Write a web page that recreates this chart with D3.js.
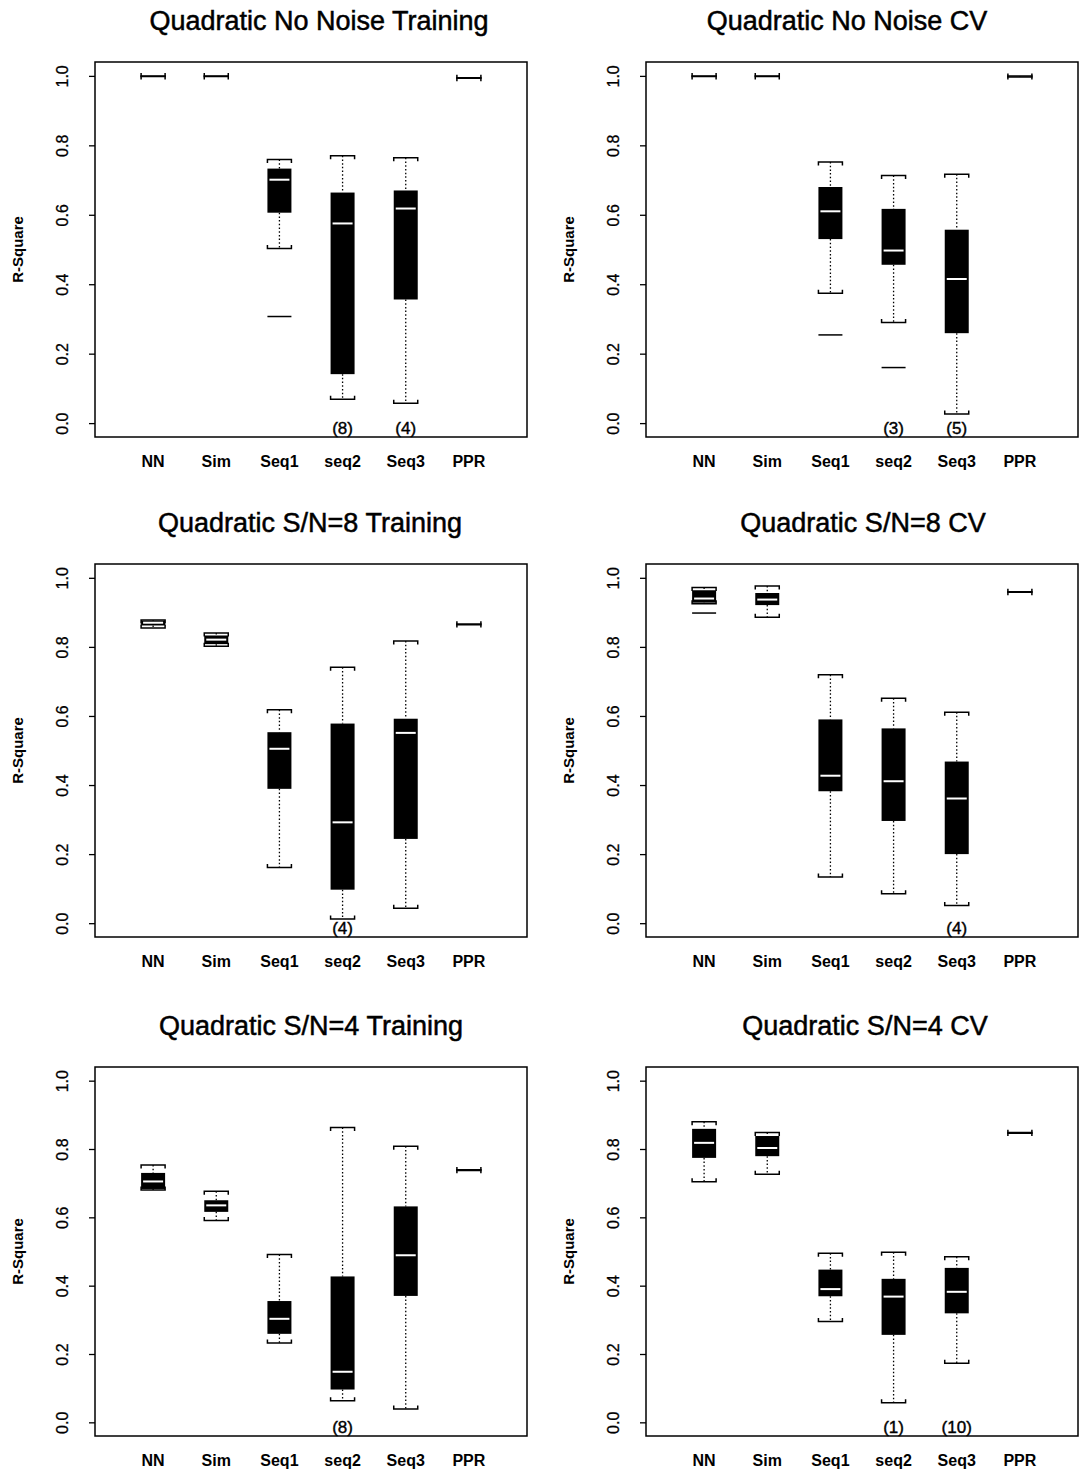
<!DOCTYPE html>
<html>
<head>
<meta charset="utf-8">
<script src="https://cdn.jsdelivr.net/npm/d3@7"></script>
<style>
  body { margin: 0; background: #fff; }
  text { font-family: "Liberation Sans", Arial, Helvetica, sans-serif; fill: #000; }
</style>
</head>
<body>
<script>
const methods = ["NN", "Sim", "Seq1", "seq2", "Seq3", "PPR"];
const yTicks = [0, 0.2, 0.4, 0.6, 0.8, 1.0];

const titles = [
  "Quadratic No Noise Training", "Quadratic No Noise CV",
  "Quadratic S/N=8 Training", "Quadratic S/N=8 CV",
  "Quadratic S/N=4 Training", "Quadratic S/N=4 CV"
];

// [min, q1, median, q3, max] for each method, in methods order
const statsNoNoiseTrain = [
  [0.998, 0.999, 0.999, 0.999, 1.000],
  [0.998, 0.999, 0.999, 0.999, 1.000],
  [0.503, 0.606, 0.701, 0.733, 0.759],
  [0.069, 0.141, 0.575, 0.664, 0.770],
  [0.057, 0.356, 0.618, 0.670, 0.764],
  [0.993, 0.994, 0.994, 0.995, 0.995]
];
const statsNoNoiseCV = [
  [0.998, 0.999, 0.999, 1.000, 1.000],
  [0.998, 0.999, 0.999, 1.000, 1.000],
  [0.374, 0.530, 0.610, 0.680, 0.752],
  [0.290, 0.456, 0.497, 0.617, 0.713],
  [0.026, 0.259, 0.415, 0.557, 0.717],
  [0.997, 0.998, 0.999, 0.999, 1.000]
];
const statsSN8Train = [
  [0.855, 0.862, 0.870, 0.876, 0.878],
  [0.802, 0.808, 0.821, 0.833, 0.840],
  [0.161, 0.389, 0.505, 0.553, 0.618],
  [0.012, 0.097, 0.292, 0.578, 0.741],
  [0.043, 0.244, 0.551, 0.592, 0.817],
  [0.864, 0.865, 0.865, 0.866, 0.866]
];
const statsSN8CV = [
  [0.925, 0.928, 0.940, 0.964, 0.972],
  [0.886, 0.921, 0.937, 0.956, 0.976],
  [0.134, 0.382, 0.427, 0.590, 0.719],
  [0.085, 0.296, 0.411, 0.564, 0.651],
  [0.051, 0.200, 0.361, 0.468, 0.611],
  [0.958, 0.959, 0.959, 0.960, 0.960]
];
const statsSN4Train = [
  [0.680, 0.683, 0.705, 0.730, 0.753],
  [0.591, 0.616, 0.635, 0.650, 0.676],
  [0.232, 0.259, 0.303, 0.355, 0.491],
  [0.063, 0.096, 0.148, 0.427, 0.863],
  [0.039, 0.370, 0.489, 0.632, 0.808],
  [0.737, 0.738, 0.738, 0.739, 0.739]
];
const statsSN4CV = [
  [0.704, 0.774, 0.818, 0.859, 0.880],
  [0.726, 0.779, 0.803, 0.838, 0.848],
  [0.295, 0.369, 0.390, 0.447, 0.495],
  [0.057, 0.256, 0.368, 0.420, 0.498],
  [0.173, 0.319, 0.382, 0.452, 0.485],
  [0.846, 0.847, 0.847, 0.848, 0.848]
];

// outliers: [method, value]
const outliersNoNoiseTrain = [["Seq1", 0.307]];
const outliersNoNoiseCV = [["Seq1", 0.254], ["seq2", 0.160]];
const outliersSN8Train = [];
const outliersSN8CV = [["NN", 0.898]];
const outliersSN4Train = [];
const outliersSN4CV = [];

// number of runs below 0 (off the chart): [method, count]
const belowNoNoiseTrain = [["seq2", 8], ["Seq3", 4]];
const belowNoNoiseCV = [["seq2", 3], ["Seq3", 5]];
const belowSN8Train = [["seq2", 4]];
const belowSN8CV = [["Seq3", 4]];
const belowSN4Train = [["seq2", 8]];
const belowSN4CV = [["seq2", 1], ["Seq3", 10]];

const panelStats = [statsNoNoiseTrain, statsNoNoiseCV, statsSN8Train, statsSN8CV, statsSN4Train, statsSN4CV];
const panelOutliers = [outliersNoNoiseTrain, outliersNoNoiseCV, outliersSN8Train, outliersSN8CV, outliersSN4Train, outliersSN4CV];
const panelBelow = [belowNoNoiseTrain, belowNoNoiseCV, belowSN8Train, belowSN8CV, belowSN4Train, belowSN4CV];

// layout
const COL_X = [95, 646];
const ROW_Y = [62, 564, 1067];
const ROW_H = [375, 373, 369];
const FRAME_W = 432;
const TITLE_X = [319, 847, 310, 863, 311, 865];
const BOX_W = 24;
const CAP_TICK = 3.5;

const svg = d3.select("body").append("svg")
  .attr("width", 1079)
  .attr("height", 1471);

panelStats.forEach((stats, i) => {
  const left = COL_X[i % 2];
  const top = ROW_Y[Math.floor(i / 2)];
  const h = ROW_H[Math.floor(i / 2)];

  const x = d3.scalePoint().domain(methods).range([0, FRAME_W]).padding(0.92);
  const y = d3.scaleLinear().domain([-0.04, 1.04]).range([h, 0]);

  const g = svg.append("g").attr("transform", `translate(${left},${top})`);

  // title
  svg.append("text")
    .attr("x", TITLE_X[i])
    .attr("y", top - 32)
    .attr("text-anchor", "middle")
    .attr("stroke", "#000")
    .attr("stroke-width", 0.5)
    .style("font-size", "27px")
    .text(titles[i]);

  // y axis
  const axis = g.append("g")
    .call(d3.axisLeft(y).tickValues(yTicks).tickSize(6).tickFormat(d3.format(".1f")));
  axis.select(".domain").remove();
  axis.selectAll(".tick line").attr("stroke", "#000").attr("stroke-width", 1.3);
  axis.selectAll(".tick text")
    .attr("x", null)
    .attr("dy", null)
    .attr("transform", "translate(-33,0) rotate(-90)")
    .attr("text-anchor", "middle")
    .attr("dominant-baseline", "central")
    .attr("stroke", "#000")
    .attr("stroke-width", 0.3)
    .style("font-size", "16px")
    .style("font-family", "'Liberation Sans', Arial, sans-serif");

  g.append("text")
    .attr("transform", `translate(-78,${h / 2}) rotate(-90)`)
    .attr("text-anchor", "middle")
    .attr("dominant-baseline", "central")
    .style("font-size", "15px")
    .style("font-weight", "bold")
    .text("R-Square");

  // x labels
  g.selectAll(".xlab")
    .data(methods)
    .enter()
    .append("text")
    .attr("x", d => x(d))
    .attr("y", h + 30)
    .attr("text-anchor", "middle")
    .style("font-size", "16px")
    .style("font-weight", "bold")
    .text(d => d);

  // boxes
  const boxes = g.selectAll(".box")
    .data(stats.map((s, k) => ({ name: methods[k], s })))
    .enter()
    .append("g")
    .attr("transform", d => `translate(${x(d.name)},0)`);

  // whiskers (dotted)
  boxes.append("line")
    .attr("x1", 0).attr("x2", 0)
    .attr("y1", d => y(d.s[4])).attr("y2", d => y(d.s[3]))
    .attr("stroke", "#000").attr("stroke-width", 1.3)
    .attr("stroke-dasharray", "1.5,2.2");
  boxes.append("line")
    .attr("x1", 0).attr("x2", 0)
    .attr("y1", d => y(d.s[1])).attr("y2", d => y(d.s[0]))
    .attr("stroke", "#000").attr("stroke-width", 1.3)
    .attr("stroke-dasharray", "1.5,2.2");

  // caps as brackets pointing toward the box
  const cap = (sel, idx, dir) => sel.append("path")
    .attr("d", d => {
      const yy = y(d.s[idx]);
      return `M${-BOX_W / 2},${yy + dir * CAP_TICK}V${yy}H${BOX_W / 2}V${yy + dir * CAP_TICK}`;
    })
    .attr("fill", "none")
    .attr("stroke", "#000")
    .attr("stroke-width", 1.5);
  cap(boxes, 4, 1);
  cap(boxes, 0, -1);

  // box body (collapsed boxes are drawn by their caps only)
  boxes.filter(d => y(d.s[1]) - y(d.s[3]) > 1)
    .append("rect")
    .attr("x", -BOX_W / 2)
    .attr("width", BOX_W)
    .attr("y", d => y(d.s[3]))
    .attr("height", d => y(d.s[1]) - y(d.s[3]))
    .attr("fill", "#000");

  // median
  boxes.filter(d => y(d.s[1]) - y(d.s[3]) > 3)
    .append("line")
    .attr("x1", -BOX_W / 2 + 2).attr("x2", BOX_W / 2 - 2)
    .attr("y1", d => y(d.s[2])).attr("y2", d => y(d.s[2]))
    .attr("stroke", "#fff").attr("stroke-width", 2);

  // outliers as short dashes
  g.selectAll(".out")
    .data(panelOutliers[i])
    .enter()
    .append("line")
    .attr("x1", d => x(d[0]) - BOX_W / 2)
    .attr("x2", d => x(d[0]) + BOX_W / 2)
    .attr("y1", d => y(d[1]))
    .attr("y2", d => y(d[1]))
    .attr("stroke", "#000")
    .attr("stroke-width", 1.5);

  // counts below zero
  g.selectAll(".below")
    .data(panelBelow[i])
    .enter()
    .append("text")
    .attr("x", d => x(d[0]))
    .attr("y", h - 3)
    .attr("text-anchor", "middle")
    .style("font-size", "17px")
    .attr("stroke", "#000")
    .attr("stroke-width", 0.4)
    .text(d => `(${d[1]})`);

  // frame
  g.append("rect")
    .attr("width", FRAME_W)
    .attr("height", h)
    .attr("fill", "none")
    .attr("stroke", "#000")
    .attr("stroke-width", 1.5);
});
</script>
</body>
</html>
